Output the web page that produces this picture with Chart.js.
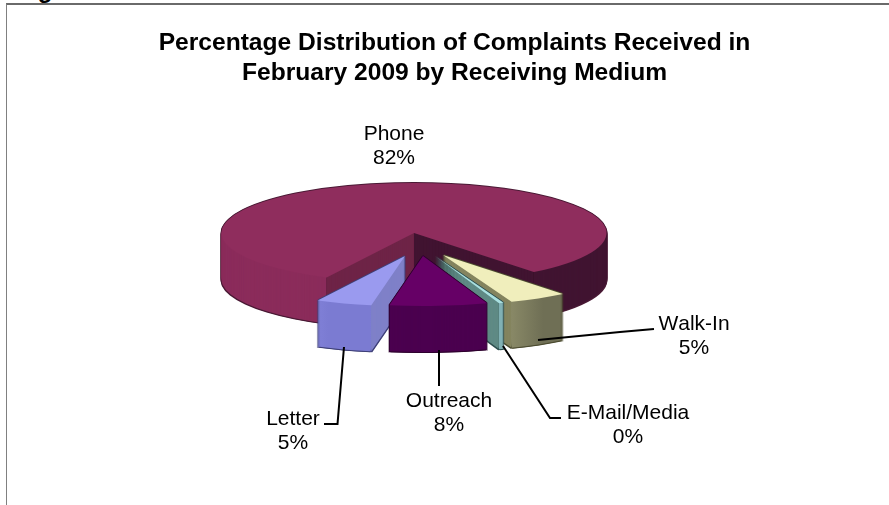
<!DOCTYPE html>
<html>
<head>
<meta charset="utf-8">
<title>Complaints by Receiving Medium</title>
<script src="https://cdn.jsdelivr.net/npm/chart.js@4"></script>
<style>
    html, body { margin: 0; padding: 0; background: #fff; overflow: hidden; }
    #wrap { position: relative; width: 889px; height: 505px; overflow: hidden; }
    #frame { position: absolute; left: 6px; top: 3px; right: -3px; bottom: -3px; border: 1px solid #808080; border-top: 2px solid #6a6a6a; }
    #cut-heading { position: absolute; left: 16.5px; top: -24px; font: bold 24px "Liberation Sans", Arial, sans-serif; color: #000; }
    canvas { position: absolute; left: 0; top: 0; }
</style>
</head>
<body>
<div id="wrap">
    <div id="cut-heading">Figure</div>
    <div id="frame"></div>
    <canvas id="chart" width="889" height="505"></canvas>
</div>
<script>
const titleLines = ['Percentage Distribution of Complaints Received in', 'February 2009 by Receiving Medium'];
const categories = ['Phone', 'Walk-In', 'E-Mail/Media', 'Outreach', 'Letter'];
const shares = [81.8, 4.9, 0.4, 8.2, 4.7];

const topColors = ['#8f2d5d', '#f0eebc', '#a9e0e0', '#660066', '#9a9aef'];
const edgeColors = ['#4a1a35', '#4c4c30', '#2f5050', '#2e002e', '#3f4078'];

// wall colour left of / between the three x edges of a slice (two corners and the tip)
const wallColors = [
    ['#8b2c5b', '#6e2447', '#411431', '#411431'],
    ['#84845f', '#84845f', ['#95956f', '#6f6f55'], ['#95956f', '#6f6f55']],
    ['#5f8a85', '#5f8a85', '#80b0b4', '#80b0b4'],
    ['#4b004f', '#4b004f', '#4b004f', '#4b004f'],
    [['#9292e8', '#7b7bd2'], ['#9292e8', '#7b7bd2'], '#7f80c8', '#7f80c8']
];

// pie projection, px on screen
const pie = { x: 414, y: 233, rx: 192.5, ry: 50, depth: 46 };
const sliceShift = [[0, 0], [29, 22], [21, 23], [9, 23], [-9, 23]];
const drawOrder = [0, 4, 1, 2, 3];

// label centre x, first line y, then the leader polyline
const labelSpots = [
    { x: 394, y: 134, line: [] },
    { x: 694, y: 324, line: [[538, 340], [620, 332], [654, 329]] },
    { x: 628, y: 413, line: [[503, 346], [550, 418], [561, 418]] },
    { x: 449, y: 401, line: [[439, 350], [439, 386]] },
    { x: 293, y: 419, line: [[344, 347], [337.5, 424], [324, 424]] }
];

function drawSlice(chart, arc, i) {
    const ctx = chart.ctx;
    const base = arc.options;
    const shift = sliceShift[i];

    const paint = (color, dx, dy) => {
        arc.options = Object.assign({}, base, { backgroundColor: color, borderWidth: 0 });
        ctx.save();
        ctx.translate(pie.x + shift[0] + dx, pie.y + shift[1] + dy);
        ctx.scale(pie.rx / arc.outerRadius, pie.ry / arc.outerRadius);
        ctx.translate(-arc.x, -arc.y);
        arc.draw(ctx);
        ctx.restore();
        arc.options = base;
    };

    // corners of the slice on screen
    const tipX = pie.x + shift[0];
    const x1 = tipX + pie.rx * Math.cos(arc.startAngle);
    const x2 = tipX + pie.rx * Math.cos(arc.endAngle);
    const edges = [x1, x2, tipX].sort((a, b) => a - b);
    const bands = [-1000, edges[0], edges[1], edges[2], 2000];

    // silhouette first, the fills go on top and leave it as outline
    const edge = edgeColors[i];
    for (let d = pie.depth + 1; d >= 0; d--) {
        paint(edge, -1, d);
        paint(edge, 1, d);
    }
    paint(edge, 0, -1);

    // side walls, one clip band per face
    wallColors[i].forEach((face, b) => {
        let fill = face;
        if (Array.isArray(face)) {
            fill = ctx.createLinearGradient(Math.min(x1, x2), 0, Math.max(x1, x2), 0);
            fill.addColorStop(0, face[0]);
            fill.addColorStop(1, face[1]);
        }
        const gap = face === wallColors[i][b + 1] ? 0 : 0.6;
        ctx.save();
        ctx.beginPath();
        ctx.rect(bands[b], 0, bands[b + 1] - bands[b] - gap, 505);
        ctx.clip();
        for (let d = pie.depth; d > 0; d--) {
            paint(fill, 0, d);
        }
        ctx.restore();
    });

    // top face
    paint(topColors[i], 0, 0);
}

const pie3d = {
    id: 'pie3d',
    beforeDatasetDraw(chart) {
        const arcs = chart.getDatasetMeta(0).data;
        drawOrder.forEach(i => drawSlice(chart, arcs[i], i));
        return false;
    },
    afterDatasetsDraw(chart) {
        const ctx = chart.ctx;
        ctx.save();
        ctx.strokeStyle = '#000';
        ctx.lineWidth = 2;
        ctx.fillStyle = '#000';
        ctx.font = '21px "Liberation Sans", Arial, sans-serif';
        ctx.fontKerning = 'none';
        ctx.textAlign = 'center';
        ctx.textBaseline = 'middle';
        categories.forEach((name, i) => {
            const spot = labelSpots[i];
            if (spot.line.length) {
                ctx.beginPath();
                spot.line.forEach((p, k) => k ? ctx.lineTo(p[0], p[1]) : ctx.moveTo(p[0], p[1]));
                ctx.stroke();
            }
            ctx.fillText(name, spot.x, spot.y);
            ctx.fillText(Math.round(shares[i]) + '%', spot.x, spot.y + 24);
        });
        ctx.restore();
    }
};

new Chart(document.getElementById('chart'), {
    type: 'pie',
    data: {
        labels: categories,
        datasets: [{
            data: shares,
            backgroundColor: topColors,
            borderWidth: 0
        }]
    },
    options: {
        responsive: false,
        animation: false,
        rotation: 207,
        layout: { padding: { top: 28, left: 20 } },
        plugins: {
            legend: { display: false },
            tooltip: { enabled: false },
            title: {
                display: true,
                text: titleLines,
                color: '#000',
                font: { family: '"Liberation Sans", Arial, sans-serif', size: 24.6, weight: 'bold', lineHeight: 1.22 },
                padding: 0
            }
        }
    },
    plugins: [pie3d]
});
</script>
</body>
</html>
